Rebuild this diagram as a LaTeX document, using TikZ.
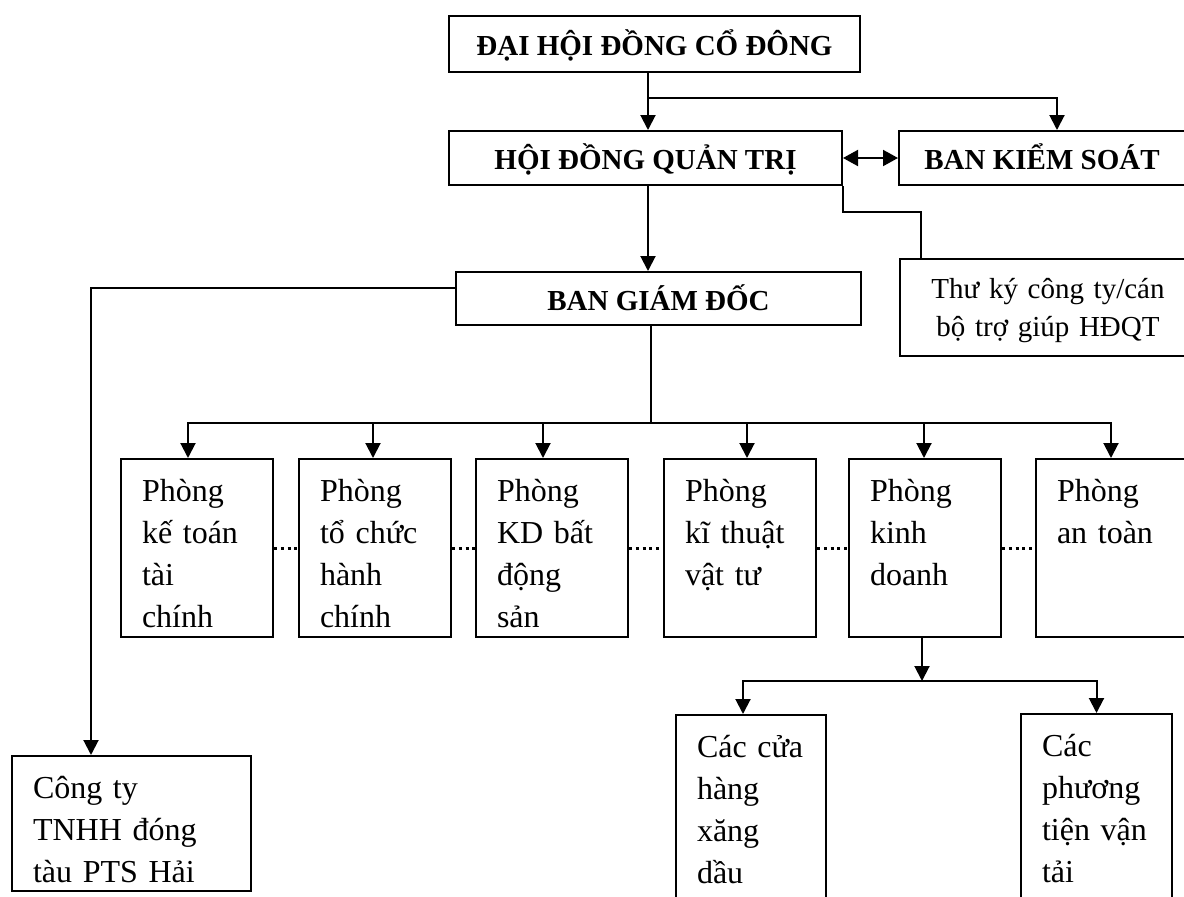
\documentclass[tikz,border=0pt]{standalone}
\usepackage{fontspec}
\setmainfont{Liberation Serif}
\usetikzlibrary{arrows.meta}

\begin{document}
\begin{tikzpicture}[x=1pt, y=-1pt, line width=2pt,
	headbox/.style={draw, inner sep=0pt, font=\fontsize{29}{34}\selectfont\bfseries, text height=23pt, text depth=0pt},
	phong/.style={draw, anchor=north west, align=left, inner xsep=21pt, inner ysep=0pt, text width=110pt, text height=42pt, text depth=136pt, font=\fontsize{32}{42}\selectfont},
	arr/.style={-{Triangle[length=15pt,width=15pt]}},
	dotline/.style={line width=3pt, dash pattern=on 3pt off 3.8pt}]
	\useasboundingbox (0,0) rectangle (1184,897);
	\clip (0,0) rectangle (1184,897);

	\node [headbox, minimum width=411pt, minimum height=56pt] (dhcd) at (654.5,44) {ĐẠI HỘI ĐỒNG CỔ ĐÔNG};
	\node [headbox, minimum width=393pt, minimum height=54pt] (hdqt) at (645.5,158) {HỘI ĐỒNG QUẢN TRỊ};
	\node [headbox, minimum width=286pt, minimum height=54pt] (bks) at (1042,158) {BAN KIỂM SOÁT};
	\node [headbox, minimum width=405pt, minimum height=53pt] (bgd) at (658.5,298.5) {BAN GIÁM ĐỐC};
	\node [draw, anchor=north west, inner sep=0pt, text width=296pt, align=center, text height=39pt, text depth=58pt, font=\fontsize{29}{38}\selectfont] (thuky) at (899,258) {Thư ký công ty/cán\\bộ trợ giúp HĐQT};

	% cac phong
	\node [phong] (p1) at (120,458) {Phòng\\kế toán\\tài\\chính};
	\node [phong] (p2) at (298,458) {Phòng\\tổ chức\\hành\\chính};
	\node [phong] (p3) at (475,458) {Phòng\\KD bất\\động\\sản};
	\node [phong] (p4) at (663,458) {Phòng\\kĩ thuật\\vật tư};
	\node [phong] (p5) at (848,458) {Phòng\\kinh\\doanh};
	\node [phong] (p6) at (1035,458) {Phòng\\an toàn};

	\node [phong, text width=197pt, text depth=93pt] (cty) at (11,755) {Công ty\\TNHH đóng\\tàu PTS Hải};
	\node [phong, text width=108pt, text depth=160pt] (chxd) at (675,714) {Các cửa\\hàng\\xăng\\dầu};
	\node [phong, text width=109pt, text depth=160pt] (ptvt) at (1020,713) {Các\\phương\\tiện vận\\tải};

	\coordinate (j1) at ([xshift=-6.5pt,yshift=-25pt]dhcd.south);
	\coordinate (bus) at (651,423);
	\coordinate (kd) at (922,681);

	\draw [arr] ([xshift=-6.5pt]dhcd.south) -- ([xshift=-6.5pt]dhcd.south |- hdqt.north);
	\draw [arr] (j1) -| ([xshift=15pt]bks.north);
	\draw [{Triangle[length=15pt,width=16pt]}-{Triangle[length=15pt,width=16pt]}] (hdqt.east) -- (bks.west);
	\draw [arr] ([xshift=2.5pt]hdqt.south) -- ([xshift=2.5pt]hdqt.south |- bgd.north);
	\draw (hdqt.south east) -- ++(0,26) -| ([xshift=22pt]thuky.north west);
	\draw [arr] ([yshift=10.5pt]bgd.west) -| ([xshift=-40.5pt]cty.north);

	\draw (bus |- bgd.south) -- (bus);
	\foreach \b/\s in {p1/-9,p2/-2,p3/-9,p4/7,p5/-1,p6/-1}
		\draw [arr] (bus) -| ([xshift=\s pt]\b.north);
	\foreach \a/\b in {p1/p2,p2/p3,p3/p4,p4/p5,p5/p6}
		\draw [dotline] (\a.east) -- (\b.west);

	\draw [arr] (kd |- p5.south) -- (kd);
	\draw [arr] (kd) -| ([xshift=-8pt]chxd.north);
	\draw [arr] (kd) -| (ptvt.north);
\end{tikzpicture}
\end{document}
